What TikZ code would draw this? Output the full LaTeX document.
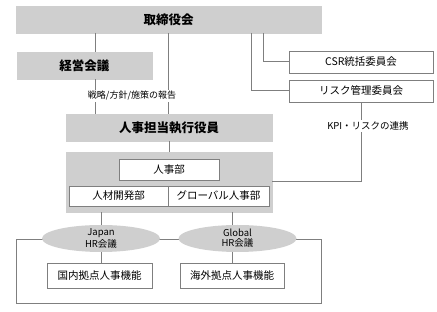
\documentclass[tikz,border=0pt]{standalone}
\usepackage{fontspec}
\setmainfont{Noto Sans CJK JP}
\usetikzlibrary{shapes.geometric}
\definecolor{boxgray}{HTML}{CFCFCF}
\definecolor{linegray}{HTML}{7F7F7F}
\begin{document}
\begin{tikzpicture}[x=1pt,y=-1pt,
  graybox/.style={draw=boxgray,fill=boxgray,font=\fontsize{12.5}{14}\selectfont\bfseries,inner sep=0pt},
  whitebox/.style={draw=linegray,fill=white,line width=0.7pt,font=\fontsize{10.5}{12}\selectfont,inner sep=0pt},
  conn/.style={draw=linegray,line width=1pt},
  lbl/.style={font=\fontsize{9}{10}\selectfont,fill=white,inner sep=1.5pt},
  ell/.style={ellipse,draw=none,fill=boxgray,font=\fontsize{9.5}{10}\selectfont,align=center,inner sep=0pt,minimum width=118pt,minimum height=27pt}
]
\useasboundingbox (0,0) rectangle (437,312);
% outer frame for bottom area
\draw[draw=linegray,line width=0.8pt] (16,239) rectangle (321,303);
% top boxes
\node[graybox,minimum width=305pt,minimum height=27pt] (board) at (168.5,19.5) {取締役会};
\node[graybox,minimum width=135pt,minimum height=27pt] (mgmt) at (84.5,65.5) {経営会議};
\node[whitebox,minimum width=144pt,minimum height=22pt] (csr) at (361,62) {CSR統括委員会};
\node[whitebox,minimum width=144pt,minimum height=22pt] (risk) at (361,91) {リスク管理委員会};
\node[graybox,minimum width=206pt,minimum height=27pt] (exec) at (169,127.5) {人事担当執行役員};
% HR block
\node[graybox,minimum width=206pt,minimum height=60pt] (hrblock) at (169,182) {};
\node[whitebox,minimum width=100pt,minimum height=21pt] (hr) at (169,169.5) {人事部};
\node[whitebox,minimum width=99pt,minimum height=20pt] (dev) at (118.5,196) {人材開発部};
\node[whitebox,minimum width=101pt,minimum height=20pt] (glob) at (218.5,196) {グローバル人事部};
% ellipses
\node[ell] (jp) at (101,238.5) {Japan\\HR会議};
\node[ell] (gl) at (237.5,238.5) {Global\\HR会議};
\node[whitebox,minimum width=105pt,minimum height=25pt] (dom) at (99.5,275.5) {国内拠点人事機能};
\node[whitebox,minimum width=104pt,minimum height=25pt] (ovs) at (232,275.5) {海外拠点人事機能};
% connectors
\coordinate (b1) at (95,33);
\coordinate (b2) at (168,33);
\coordinate (b3) at (251,33);
\coordinate (b4) at (263,33);
\draw[conn] (b1) -- (mgmt.north -| b1);
\draw[conn] (mgmt.south -| b1) -- (exec.north -| b1);
\draw[conn] (b2) -- (exec.north -| b2);
\draw[conn] (b3) |- (risk.west);
\draw[conn] (b4) |- (csr.west);
\node[lbl] (strat) at (132,96) {戦略/方針/施策の報告};
\draw[conn] (exec.south) -- (hrblock.north);
\coordinate (k1) at (361,182);
\draw[conn] (risk.south) -- (k1) -- (hrblock.east |- k1);
\node[lbl,font=\fontsize{9.5}{10}\selectfont] (kpi) at (368,126) {KPI・リスクの連携};
\coordinate (g1) at (232,212);
\coordinate (g2) at (232,225);
\coordinate (g3) at (232,252);
\draw[conn] (hrblock.south -| jp) -- (jp.north);
\draw[conn] (g1) -- (g2);
\draw[conn] (jp.south) -- (jp.south |- dom.north);
\draw[conn] (g3) -- (ovs.north);
\end{tikzpicture}
\end{document}
